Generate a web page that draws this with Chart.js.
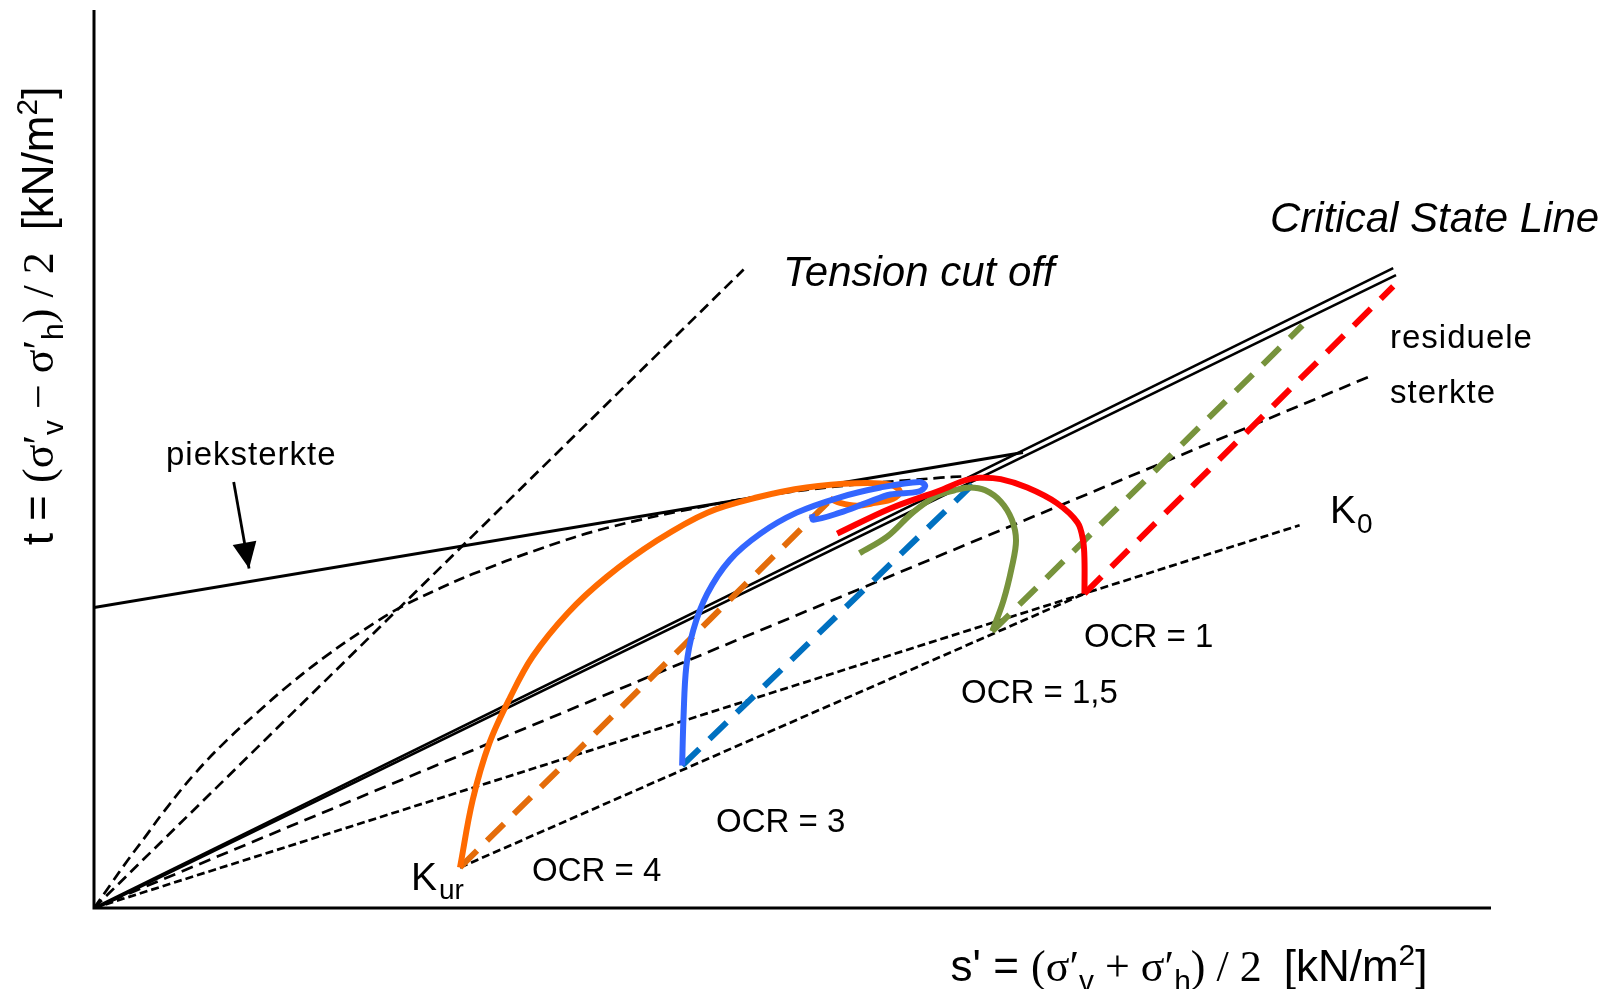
<!DOCTYPE html>
<html>
<head>
<meta charset="utf-8">
<script src="https://cdn.jsdelivr.net/npm/chart.js@4.4.1/dist/chart.umd.min.js"></script>
<style>
  body { margin: 0; background: #fff; }
  canvas { display: block; }
</style>
</head>
<body>
<canvas id="grafico" width="1610" height="989"></canvas>
<script>
// EIXOS (s' NO X, t NO Y, SEM ESCALA NUMÉRICA)
let s_max = 100
let t_max = 64.28

// LINHAS RETAS
let csl1_s = [0, 93.0]
let csl1_t = [0, 45.8]
let csl2_s = [0.2, 93.2]
let csl2_t = [0, 45.3]
let piek_s = [0, 66.5]
let piek_t = [21.5, 32.6]
let tension_s = [0, 46.5]
let tension_t = [0, 45.7]
let residu_s = [0, 91.2]
let residu_t = [0, 38.0]
let k0_s = [0, 86.3]
let k0_t = [0, 27.4]
let kur_s = [26.2, 70.9]
let kur_t = [2.9, 22.5]

// CURVA LIMITE (TRACEJADA)
let grens_s = [0, 1.2, 2.4, 3.6, 5.0, 7.2, 9.5, 11.7, 14.0, 16.7, 19.3, 21.9, 24.8, 27.1, 31.9, 36.7, 43.9, 48.6, 53.4, 60.6, 62.3]
let grens_t = [0, 1.7, 3.4, 5.0, 6.9, 9.6, 12.0, 14.0, 16.0, 18.1, 19.9, 21.5, 22.9, 23.9, 25.7, 27.2, 28.8, 29.6, 30.2, 30.8, 30.9]

// CAMINHOS DE TENSÃO EFETIVA
let ocr4_s = [26.2, 27.1, 28.3, 29.8, 31.4, 33.9, 36.7, 40.3, 43.9, 47.5, 51.0, 54.6, 57.0, 57.7, 57.2, 55.9, 54.6, 53.4, 52.7]
let ocr4_t = [2.9, 7.7, 11.8, 15.1, 18.0, 21.1, 23.7, 26.3, 28.3, 29.4, 30.1, 30.4, 30.3, 29.8, 29.3, 29.0, 28.8, 29.0, 29.3]
let ocr3_s = [42.1, 42.2, 42.4, 42.9, 43.9, 45.5, 47.7, 50.3, 53.4, 56.3, 59.1, 59.5, 59.0, 57.0, 55.3, 53.4, 51.5, 51.4]
let ocr3_t = [10.2, 13.7, 17.3, 19.9, 22.5, 24.9, 26.8, 28.3, 29.4, 30.1, 30.5, 30.2, 29.8, 29.6, 29.0, 28.3, 27.8, 28.2]
let ocr15_s = [64.3, 65.1, 65.7, 66.0, 65.7, 64.9, 63.8, 62.7, 61.6, 60.3, 58.6, 56.8, 54.8]
let ocr15_t = [19.8, 22.0, 24.4, 26.3, 27.8, 29.1, 29.9, 30.1, 29.9, 29.5, 28.3, 26.6, 25.4]
let ocr1_s = [70.9, 70.9, 70.8, 70.4, 68.9, 66.8, 64.9, 63.4, 62.3, 60.6, 57.0, 53.2]
let ocr1_t = [22.5, 24.9, 26.3, 27.6, 29.0, 30.1, 30.7, 30.8, 30.6, 29.9, 28.6, 26.8]

// CAMINHOS DE TENSÃO TOTAL
let ocr4tot_s = [26.2, 52.9]
let ocr4tot_t = [2.9, 29.4]
let ocr3tot_s = [42.1, 63.4]
let ocr3tot_t = [10.2, 30.8]
let ocr15tot_s = [64.3, 86.5]
let ocr15tot_t = [19.8, 41.7]
let ocr1tot_s = [70.9, 93.0]
let ocr1tot_t = [22.5, 44.5]

// SETA "pieksterkte"
let pijl_s = [10.0, 11.1]
let pijl_t = [30.5, 24.3]

function pontos(s, t) {
    return s.map((v, i) => ({ x: v, y: t[i] }))
}

function linha(label, s, t, cor, largura, tracejado, curva) {
    return {
        label: label,
        data: pontos(s, t),
        showLine: true,
        borderColor: cor,
        backgroundColor: cor,
        borderWidth: largura,
        borderDash: tracejado || [],
        borderJoinStyle: 'round',
        pointRadius: 0,
        pointHoverRadius: 0,
        tension: curva || 0,
        fill: false
    }
}

let SANS = '"Liberation Sans", Arial, sans-serif'
let SERIF = '"Liberation Serif", "Times New Roman", serif'

// TEXTO COM ÍNDICES
function larguraRica(ctx, partes, tam) {
    let w = 0
    for (let p of partes) {
        let size = (p.sub || p.sup) ? tam * 0.68 : tam
        ctx.font = `${size}px ${p.serif ? SERIF : SANS}`
        w += ctx.measureText(p.t).width
    }
    return w
}

function textoRico(ctx, partes, x, y, tam) {
    let cx = x
    for (let p of partes) {
        let size = (p.sub || p.sup) ? tam * 0.68 : tam
        ctx.font = `${size}px ${p.serif ? SERIF : SANS}`
        let dy = p.sub ? tam * 0.22 : (p.sup ? -tam * 0.36 : 0)
        ctx.fillText(p.t, cx, y + dy)
        cx += ctx.measureText(p.t).width
    }
}

let tituloX = [
    { t: "s' = " },
    { t: '(σ′', serif: true },
    { t: 'v', sub: true },
    { t: ' + σ′', serif: true },
    { t: 'h', sub: true },
    { t: ') / 2  ', serif: true },
    { t: '[kN/m' },
    { t: '2', sup: true },
    { t: ']' }
]

let tituloY = [
    { t: 't = ' },
    { t: '(σ′', serif: true },
    { t: 'v', sub: true },
    { t: ' − σ′', serif: true },
    { t: 'h', sub: true },
    { t: ') / 2  ', serif: true },
    { t: '[kN/m' },
    { t: '2', sup: true },
    { t: ']' }
]

let desenhos = {
    id: 'desenhos',
    beforeDatasetsDraw(chart) {
        let ctx = chart.ctx
        let sx = chart.scales.x
        let sy = chart.scales.y
        // EIXOS
        ctx.save()
        ctx.strokeStyle = '#000'
        ctx.lineWidth = 3
        ctx.beginPath()
        ctx.moveTo(sx.getPixelForValue(0), sy.getPixelForValue(t_max))
        ctx.lineTo(sx.getPixelForValue(0), sy.getPixelForValue(0))
        ctx.lineTo(sx.getPixelForValue(s_max), sy.getPixelForValue(0))
        ctx.stroke()
        ctx.restore()
    },
    afterDatasetsDraw(chart) {
        let ctx = chart.ctx
        let sx = chart.scales.x
        let sy = chart.scales.y
        ctx.save()

        // PONTA DA SETA
        let x0 = sx.getPixelForValue(pijl_s[0]), y0 = sy.getPixelForValue(pijl_t[0])
        let x1 = sx.getPixelForValue(pijl_s[1]), y1 = sy.getPixelForValue(pijl_t[1])
        let len = Math.hypot(x1 - x0, y1 - y0)
        let ux = (x1 - x0) / len, uy = (y1 - y0) / len
        let bx = x1 - ux * 26, by = y1 - uy * 26
        ctx.fillStyle = '#000'
        ctx.beginPath()
        ctx.moveTo(x1, y1)
        ctx.lineTo(bx - uy * 12, by + ux * 12)
        ctx.lineTo(bx + uy * 12, by - ux * 12)
        ctx.closePath()
        ctx.fill()

        // TEXTOS
        ctx.fillStyle = '#000'
        ctx.textBaseline = 'alphabetic'
        ctx.textAlign = 'left'

        ctx.font = `italic 42px ${SANS}`
        ctx.fillText('Critical State Line', 1270, 232)
        ctx.fillText('Tension cut off', 783, 286)

        ctx.letterSpacing = '1px'
        ctx.font = `33px ${SANS}`
        ctx.fillText('residuele', 1390, 348)
        ctx.fillText('sterkte', 1390, 403)
        ctx.fillText('pieksterkte', 166, 465)
        ctx.letterSpacing = '0px'

        ctx.font = `33px ${SANS}`
        ctx.fillText('OCR = 4', 532, 881)
        ctx.fillText('OCR = 3', 716, 832)
        ctx.fillText('OCR = 1,5', 961, 703)
        ctx.fillText('OCR = 1', 1084, 647)

        ctx.font = `39px ${SANS}`
        ctx.fillText('K', 1330, 523)
        ctx.fillText('K', 411, 890)
        ctx.font = `28px ${SANS}`
        ctx.fillText('0', 1357, 533)
        ctx.fillText('ur', 439, 899)

        // TÍTULO DO EIXO X
        let wx = larguraRica(ctx, tituloX, 44)
        textoRico(ctx, tituloX, 1189 - wx / 2, 981, 44)

        // TÍTULO DO EIXO Y (GIRADO)
        ctx.save()
        ctx.translate(53, 316)
        ctx.rotate(-Math.PI / 2)
        let wy = larguraRica(ctx, tituloY, 44)
        textoRico(ctx, tituloY, -wy / 2, 0, 44)
        ctx.restore()

        ctx.restore()
    }
}

let grafico = new Chart(document.getElementById('grafico'), {
    type: 'scatter',
    data: {
        datasets: [
            // CAMINHOS EFETIVOS (POR CIMA)
            linha('OCR = 1', ocr1_s, ocr1_t, '#FF0000', 6, null, 0.35),
            linha('OCR = 1,5', ocr15_s, ocr15_t, '#77933C', 6, null, 0.35),
            linha('OCR = 3', ocr3_s, ocr3_t, '#3366FF', 6, null, 0.35),
            linha('OCR = 4', ocr4_s, ocr4_t, '#FF6A00', 6, null, 0.35),
            // CAMINHOS TOTAIS
            linha('OCR = 1 tot', ocr1tot_s, ocr1tot_t, '#FF0000', 6, [24, 14]),
            linha('OCR = 1,5 tot', ocr15tot_s, ocr15tot_t, '#77933C', 6, [24, 14]),
            linha('OCR = 3 tot', ocr3tot_s, ocr3tot_t, '#0070C0', 6, [24, 14]),
            linha('OCR = 4 tot', ocr4tot_s, ocr4tot_t, '#E46C0A', 6, [24, 14]),
            // LINHAS PRETAS
            linha('pijl', pijl_s, pijl_t, '#000', 2.8),
            linha('CSL 1', csl1_s, csl1_t, '#000', 2.6),
            linha('CSL 2', csl2_s, csl2_t, '#000', 2.6),
            linha('piek', piek_s, piek_t, '#000', 3),
            linha('tension', tension_s, tension_t, '#000', 2.7, [11, 6]),
            linha('grens', grens_s, grens_t, '#000', 2.7, [11, 6], 0.4),
            linha('residu', residu_s, residu_t, '#000', 2.7, [12, 7]),
            linha('K0', k0_s, k0_t, '#000', 2.7, [8, 4]),
            linha('Kur', kur_s, kur_t, '#000', 2.7, [8, 4])
        ]
    },
    options: {
        responsive: false,
        devicePixelRatio: 1,
        animation: false,
        layout: {
            padding: { left: 94, right: 119, top: 10, bottom: 81 }
        },
        scales: {
            x: { type: 'linear', min: 0, max: s_max, display: false },
            y: { type: 'linear', min: 0, max: t_max, display: false }
        },
        plugins: {
            legend: { display: false },
            tooltip: { enabled: false }
        }
    },
    plugins: [desenhos]
})
</script>
</body>
</html>
